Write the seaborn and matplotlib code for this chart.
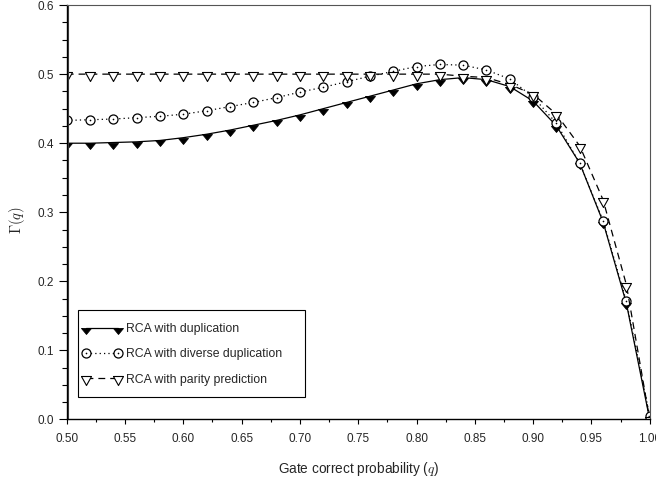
import numpy as np
import pandas as pd
import seaborn as sns
import matplotlib.pyplot as plt
from matplotlib.patches import Rectangle
from matplotlib.ticker import MultipleLocator, FormatStrFormatter
from matplotlib.legend_handler import HandlerTuple

# data
q = [0.50, 0.52, 0.54, 0.56, 0.58, 0.60, 0.62, 0.64, 0.66, 0.68, 0.70, 0.72, 0.74,
     0.76, 0.78, 0.80, 0.82, 0.84, 0.86, 0.88, 0.90, 0.92, 0.94, 0.96, 0.98, 1.00]
dup = [0.400, 0.400, 0.401, 0.402, 0.404, 0.408, 0.413, 0.419, 0.426, 0.433, 0.441,
       0.450, 0.459, 0.468, 0.477, 0.486, 0.492, 0.495, 0.492, 0.482, 0.461, 0.425,
       0.371, 0.286, 0.168, 0.0]
div_dup = [0.433, 0.434, 0.435, 0.437, 0.439, 0.442, 0.447, 0.453, 0.459, 0.466, 0.474,
           0.481, 0.489, 0.497, 0.504, 0.511, 0.514, 0.513, 0.506, 0.493, 0.467, 0.429,
           0.371, 0.288, 0.171, 0.005]
parity = [0.500, 0.500, 0.500, 0.500, 0.500, 0.500, 0.500, 0.500, 0.500, 0.500, 0.500,
          0.500, 0.500, 0.500, 0.500, 0.500, 0.500, 0.497, 0.495, 0.485, 0.471, 0.442,
          0.396, 0.318, 0.195, 0.0]
labels = ['RCA with duplication', 'RCA with diverse duplication',
          'RCA with parity prediction']

df = pd.DataFrame({'q': q, 'dup': dup, 'div': div_dup, 'par': parity})

sns.set_style('ticks')
plt.rcParams['font.family'] = ['Liberation Sans', 'DejaVu Sans']
plt.rcParams['mathtext.fontset'] = 'cm'

fig = plt.figure(figsize=(6.56, 4.83), dpi=100)
ax = fig.add_axes([0.1017, 0.1315, 0.8887, 0.858])

# triangles hanging below the data point, like the original
tri_fill = [(-5, 0), (5, 0), (0, -6), (-5, 0)]
tri_open = [(-5, 2), (5, 2), (0, -7), (-5, 2)]

sns.lineplot(data=df, x='q', y='dup', ax=ax, color='black', lw=0.9,
             marker=tri_fill, markersize=8.6, markerfacecolor='black',
             markeredgecolor='black', markeredgewidth=0.6)
sns.lineplot(data=df, x='q', y='div', ax=ax, color='black', lw=0.9,
             linestyle=(0, (1, 2.5)), marker='o', markersize=6.5,
             markerfacecolor='white', markeredgecolor='black', markeredgewidth=0.9)
sns.lineplot(data=df, x='q', y='div', ax=ax, color='black', lw=0,
             marker='o', markersize=1.2, markerfacecolor='black',
             markeredgecolor='black', markeredgewidth=0)
sns.lineplot(data=df, x='q', y='par', ax=ax, color='black', lw=0.9,
             linestyle=(0, (5.5, 4)), marker=tri_open, markersize=10.1,
             markerfacecolor='white', markeredgecolor='black', markeredgewidth=0.8)

# legend box drawn separately so it can be taller than the entries
ax.add_patch(Rectangle((0.0202, 0.0534), 0.3884, 0.2119, transform=ax.transAxes,
                       facecolor='white', edgecolor='black', lw=0.8, zorder=4.5))
lines = ax.get_lines()
ax.legend([lines[0], (lines[1], lines[2]), lines[3]], labels,
          handler_map={tuple: HandlerTuple(ndivide=1)},
          loc='upper left', bbox_to_anchor=(0.0202, 0.241), borderaxespad=0,
          fontsize=8.8, numpoints=2, handlelength=3.2, handletextpad=0.35,
          labelspacing=1.08, borderpad=0.3, frameon=False)

ax.set_xlim(0.5, 1.0)
ax.set_ylim(0.0, 0.6)
ax.xaxis.set_major_locator(MultipleLocator(0.05))
ax.xaxis.set_minor_locator(MultipleLocator(0.025))
ax.yaxis.set_major_locator(MultipleLocator(0.1))
ax.yaxis.set_minor_locator(MultipleLocator(0.025))
ax.xaxis.set_major_formatter(FormatStrFormatter('%.2f'))
ax.yaxis.set_major_formatter(FormatStrFormatter('%.1f'))
ax.tick_params(axis='both', which='both', direction='out', top=False, right=False,
               labelsize=8.5, color='black', width=0.8)
ax.tick_params(axis='y', which='major', length=5.8, pad=3.5)
ax.tick_params(axis='y', which='minor', length=3.6)
ax.tick_params(axis='x', which='major', length=3.6, pad=6)
ax.tick_params(axis='x', which='minor', length=2.2)

for side in ['top', 'right']:
    ax.spines[side].set_color('#555555')
    ax.spines[side].set_linewidth(0.8)
for side in ['left', 'bottom']:
    ax.spines[side].set_color('black')
    ax.spines[side].set_linewidth(1.0)
# second thin line next to the left axis, as in the original frame
ax.plot([0.003, 0.003], [0, 1], transform=ax.transAxes, color='#444444',
        lw=0.8, clip_on=False)

ax.set_xlabel('Gate correct probability ($q$)', fontsize=9.8, labelpad=11)
ax.set_ylabel(r'$\Gamma(q)$', fontsize=10.5)
ax.yaxis.set_label_coords(-0.068, 0.48)

fig.savefig('out.png', dpi=100)
